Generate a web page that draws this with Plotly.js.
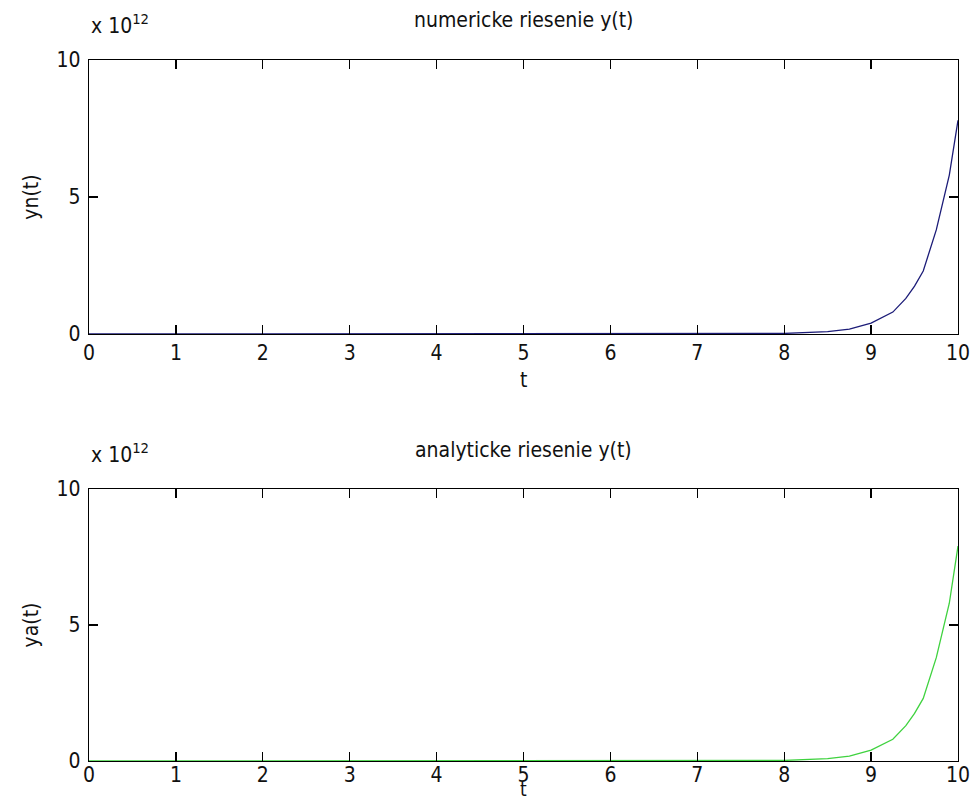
<!DOCTYPE html>
<html>
<head>
<meta charset="utf-8">
<script src="https://cdn.plot.ly/plotly-3.0.1.min.js"></script>
<style>html,body{margin:0;padding:0;background:#fff}</style>
</head>
<body>
<div id="chart" style="width:977px;height:801px"></div>
<script>
// time samples
const t = [0, 0.5, 1, 1.5, 2, 2.5, 3, 3.5, 4, 4.5, 5, 5.5, 6, 6.5, 7, 7.5, 8, 8.5, 8.75, 9, 9.25, 9.4, 9.5, 9.6, 9.75, 9.9, 10];
// numerical solution yn(t), in units of 1e12
const yn = [0, 0, 0, 0, 0, 0, 0, 0, 0, 0, 0, 0, 0, 0, 0.001, 0.005, 0.02, 0.09, 0.18, 0.40, 0.80, 1.30, 1.75, 2.30, 3.80, 5.80, 7.80];
// analytical solution ya(t), in units of 1e12
const ya = [0, 0, 0, 0, 0, 0, 0, 0, 0, 0, 0, 0, 0, 0, 0.001, 0.005, 0.02, 0.09, 0.18, 0.40, 0.80, 1.30, 1.75, 2.30, 3.80, 5.80, 7.90];
const xTicks = [0, 1, 2, 3, 4, 5, 6, 7, 8, 9, 10];
const yTicks = [0, 5, 10];
const titles = ['numericke riesenie y(t)', 'analyticke riesenie y(t)'];
const yLabels = ['yn(t)', 'ya(t)'];
const xLabel = 't';
const exponentLabel = 'x 10<sup>12</sup>';

const W = 977, H = 801;
const FAMILY = '"DejaVu Sans Condensed", "Liberation Sans Narrow", "Liberation Sans", Arial, sans-serif';
const FONT = {family: FAMILY, size: 21, color: '#111'};
const FONT_T = {family: FAMILY, size: 19, color: '#111'};
const py = p => 1 - p / H;

function xa(anchor, standoff) {
  return {
    anchor: anchor, domain: [0, 1], range: [0, 10], tickvals: xTicks, ticktext: xTicks.map(String),
    ticks: 'inside', ticklen: 9, tickwidth: 1.2, tickcolor: '#000',
    showline: true, linecolor: '#000', linewidth: 1.2, mirror: 'ticks',
    showgrid: false, zeroline: false, tickfont: FONT, ticklabelstandoff: standoff
  };
}
function yax(anchor, dom, lbl) {
  return {
    anchor: anchor, domain: dom, range: [0, 10], tickvals: yTicks, ticktext: yTicks.map(String),
    ticks: 'inside', ticklen: 9, tickwidth: 1.2, tickcolor: '#000',
    showline: true, linecolor: '#000', linewidth: 1.2, mirror: 'ticks',
    showgrid: false, zeroline: false, tickfont: FONT, ticklabelstandoff: 3,
    title: {text: lbl, font: FONT, standoff: 12}
  };
}

const data = [
  {x: t, y: yn, xaxis: 'x', yaxis: 'y', type: 'scatter', mode: 'lines', line: {color: '#1c1c78', width: 1.3}, hoverinfo: 'none'},
  {x: t, y: ya, xaxis: 'x2', yaxis: 'y2', type: 'scatter', mode: 'lines', line: {color: '#3fd23f', width: 1.3}, hoverinfo: 'none'}
];

const layout = {
  width: W, height: H,
  margin: {l: 89, r: 19, t: 0, b: 0},
  paper_bgcolor: '#fff', plot_bgcolor: '#fff',
  showlegend: false,
  font: FONT,
  xaxis: xa('y', 0),
  yaxis: yax('x', [py(334), py(60)], yLabels[0]),
  xaxis2: xa('y2', -5),
  yaxis2: yax('x2', [py(761), py(489)], yLabels[1]),
  annotations: [
    {text: titles[0], xref: 'paper', yref: 'paper', x: 0.5, y: py(20), xanchor: 'center', yanchor: 'middle', showarrow: false, font: FONT},
    {text: titles[1], xref: 'paper', yref: 'paper', x: 0.5, y: py(450), xanchor: 'center', yanchor: 'middle', showarrow: false, font: FONT},
    {text: exponentLabel, xref: 'paper', yref: 'paper', x: 0, y: py(40), xanchor: 'left', yanchor: 'bottom', showarrow: false, font: FONT},
    {text: exponentLabel, xref: 'paper', yref: 'paper', x: 0, y: py(469), xanchor: 'left', yanchor: 'bottom', showarrow: false, font: FONT},
    {text: xLabel, xref: 'paper', yref: 'paper', x: 0.5, y: py(380), xanchor: 'center', yanchor: 'middle', showarrow: false, font: FONT},
    {text: xLabel, xref: 'paper', yref: 'paper', x: 0.5, y: py(801), xanchor: 'center', yanchor: 'bottom', showarrow: false, font: FONT_T, borderpad: 0}
  ]
};

Plotly.newPlot('chart', data, layout, {displayModeBar: false, staticPlot: true});
</script>
</body>
</html>
